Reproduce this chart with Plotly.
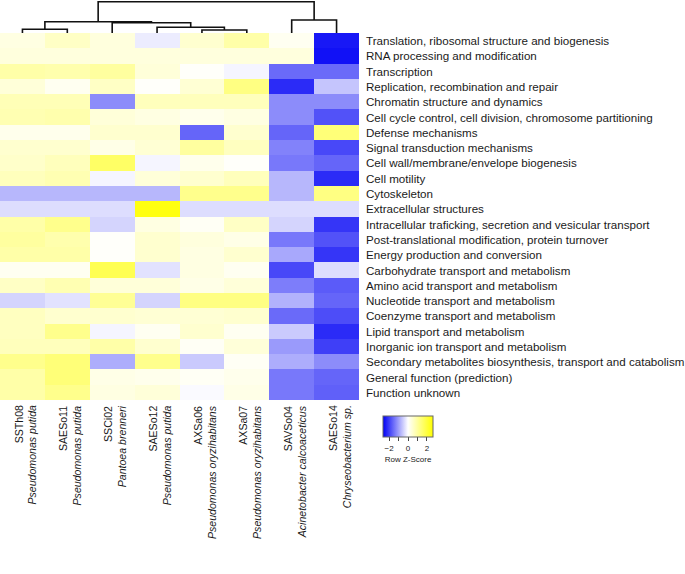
import plotly.graph_objects as go

W, H = 685, 574

strains = ["SSTh08", "SAESo11", "SSCi02", "SAESo12", "AXSa06", "AXSa07", "SAVSo04", "SAESo14"]
species = ["Pseudomonas putida", "Pseudomonas putida", "Pantoea brenneri", "Pseudomonas putida",
           "Pseudomonas oryzihabitans", "Pseudomonas oryzihabitans", "Acinetobacter calcoaceticus",
           "Chryseobacterium sp."]

categories = [
    "Translation, ribosomal structure and biogenesis",
    "RNA processing and modification",
    "Transcription",
    "Replication, recombination and repair",
    "Chromatin structure and dynamics",
    "Cell cycle control, cell division, chromosome partitioning",
    "Defense mechanisms",
    "Signal transduction mechanisms",
    "Cell wall/membrane/envelope biogenesis",
    "Cell motility",
    "Cytoskeleton",
    "Extracellular structures",
    "Intracellular traficking, secretion and vesicular transport",
    "Post-translational modification, protein turnover",
    "Energy production and conversion",
    "Carbohydrate transport and metabolism",
    "Amino acid transport and metabolism",
    "Nucleotide transport and metabolism",
    "Coenzyme transport and metabolism",
    "Lipid transport and metabolism",
    "Inorganic ion transport and metabolism",
    "Secondary metabolites biosynthesis, transport and catabolism",
    "General function (prediction)",
    "Function unknown",
]

# Row z-scores (columns in strain order)
z_scores = [
    [0.30, 0.60, 0.35, -0.20, 0.50, 0.90, 0.15, -2.40],
    [0.35, 0.35, 0.35, 0.35, 0.35, 0.35, 0.35, -2.47],
    [0.90, 0.85, 1.00, 0.40, 0.05, -0.10, -1.55, -1.55],
    [0.40, 0.15, 0.60, 0.05, 0.45, 1.30, -2.20, -0.60],
    [0.75, 0.75, -1.20, 0.70, 0.70, 0.70, -1.20, -1.20],
    [0.80, 0.85, 0.40, 0.30, 0.20, 0.30, -1.20, -1.80],
    [0.20, 0.20, 0.50, 0.50, -1.60, 0.50, -1.60, 1.40],
    [0.50, 0.50, 0.25, 0.45, 1.00, 0.65, -1.30, -1.90],
    [0.55, 0.70, 1.60, -0.10, 0.20, 0.05, -1.40, -1.60],
    [0.70, 0.80, -0.10, 0.40, 0.50, 0.70, -0.75, -2.20],
    [-0.75, -0.75, -0.75, -0.75, 1.20, 1.20, -0.75, 1.30],
    [-0.35, -0.35, -0.35, 2.47, -0.35, -0.35, -0.35, -0.35],
    [0.90, 1.20, -0.45, 0.30, 0.10, 0.60, -0.45, -2.10],
    [1.00, 0.85, 0.05, 0.50, 0.35, 0.25, -1.40, -1.80],
    [0.90, 0.90, 0.05, 0.50, 0.30, 0.50, -0.90, -2.10],
    [0.15, 0.15, 1.80, -0.30, 0.30, 0.15, -1.90, -0.35],
    [0.60, 0.80, 0.40, 0.40, 0.25, 0.40, -1.35, -1.70],
    [-0.45, -0.30, 1.10, -0.45, 1.30, 1.30, -0.80, -1.60],
    [0.65, 0.50, 0.50, 0.45, 0.45, 0.50, -1.55, -1.85],
    [0.65, 1.20, -0.10, 0.15, 0.50, 0.15, -0.55, -2.20],
    [0.70, 0.70, 0.90, 0.50, 0.10, 0.40, -1.05, -2.00],
    [1.20, 1.40, -0.85, 1.20, -0.55, 0.10, -0.85, -1.20],
    [0.90, 1.40, 0.25, 0.20, 0.10, 0.20, -1.40, -1.60],
    [0.90, 1.20, 0.30, 0.40, -0.05, 0.25, -1.40, -1.65],
]

# Column dendrogram: merges of (left id, right id, height); leaves are 0..7, new clusters 8+
merge_left = [0, 4, 3, 2, 8, 6, 12]
merge_right = [1, 5, 9, 10, 11, 7, 13]
merge_height = [3.7, 3.0, 5.7, 10.3, 11.3, 13.0, 31.3]

key_ticks = [-2, -1, 0, 1, 2]
key_labels = ["\u22122", "", "0", "", "2"]

# layout in pixels
hm_left, hm_right, hm_top, hm_bottom = 0, 359, 33, 400

def px_x(p):
    return p / W

def px_y(p):
    return 1 - p / H

fig = go.Figure()

fig.add_trace(go.Heatmap(
    z=z_scores,
    x=list(range(len(strains))),
    y=list(range(len(categories))),
    zmin=-2.65, zmax=2.65,
    colorscale=[[0, "rgb(0,0,245)"], [0.5, "rgb(255,255,255)"], [1, "rgb(255,255,0)"]],
    xgap=0, ygap=0,
    hoverinfo="skip",
    colorbar=dict(
        orientation="h",
        x=px_x(408), xanchor="center",
        y=px_y(416), yanchor="top",
        len=50, lenmode="pixels",
        thickness=21, thicknessmode="pixels",
        xpad=0, ypad=0,
        outlinewidth=1, outlinecolor="#666",
        tickvals=key_ticks, ticktext=key_labels,
        ticks="outside", ticklen=4, tickcolor="#444",
        tickfont=dict(size=8, color="#222", family="Liberation Sans, Arial"),
        title=dict(text="Row Z-Score", side="bottom",
                   font=dict(size=8, color="#222", family="Liberation Sans, Arial")),
    ),
))

# dendrogram
pos = {i: float(i) for i in range(len(strains))}
hgt = {i: 0.0 for i in range(len(strains))}
dx, dy = [], []
for k, (a, b, h) in enumerate(zip(merge_left, merge_right, merge_height)):
    nid = len(strains) + k
    dx += [pos[a], pos[a], pos[b], pos[b], None]
    dy += [hgt[a], h, h, hgt[b], None]
    pos[nid] = (pos[a] + pos[b]) / 2
    hgt[nid] = h

fig.add_trace(go.Scatter(
    x=dx, y=dy, mode="lines", xaxis="x", yaxis="y2",
    line=dict(color="#111", width=1.6), hoverinfo="skip", showlegend=False,
    cliponaxis=False,
))

fig.update_layout(
    width=W, height=H,
    margin=dict(l=0, r=0, t=0, b=0),
    paper_bgcolor="white", plot_bgcolor="white",
    font=dict(family="Liberation Sans, Arial", color="#1a1a1a"),
    xaxis=dict(domain=[px_x(hm_left), px_x(hm_right)], range=[-0.5, len(strains) - 0.5],
               showticklabels=False, showgrid=False, zeroline=False, ticks=""),
    yaxis=dict(domain=[px_y(hm_bottom), px_y(hm_top)], range=[len(categories) - 0.5, -0.5],
               showticklabels=False, showgrid=False, zeroline=False, ticks=""),
    yaxis2=dict(domain=[px_y(hm_top), 1], range=[0, hm_top], anchor="x",
                showticklabels=False, showgrid=False, zeroline=False, ticks=""),
    showlegend=False,
)

annotations = []
for i, cat in enumerate(categories):
    annotations.append(dict(
        text=cat, x=px_x(364), xref="paper", xanchor="left",
        y=i, yref="y", yanchor="middle", showarrow=False,
        font=dict(size=11.6, color="#1a1a1a"),
    ))
for j, (s, sp) in enumerate(zip(strains, species)):
    annotations.append(dict(
        text=f"{s}<br><i>{sp}</i>", x=j + 0.07, xref="x", xanchor="center",
        y=px_y(403), yref="paper", yanchor="top", textangle=-90, align="right",
        showarrow=False, font=dict(size=10.6, color="#1a1a1a"),
    ))
fig.update_layout(annotations=annotations)

fig.write_html("out.html", config={"displayModeBar": False},
               post_script="document.body.style.margin='0';document.body.style.overflow='hidden';")
